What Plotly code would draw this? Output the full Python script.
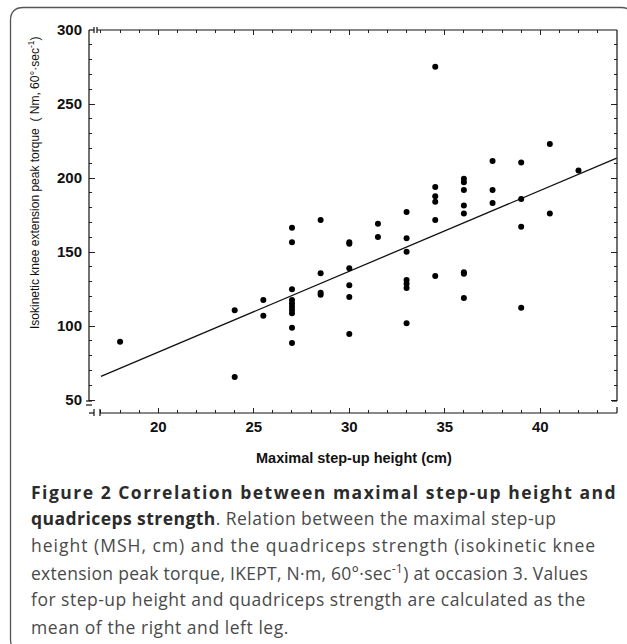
import plotly.graph_objects as go

# ---- data ----
step_height = [18, 24, 24, 25.5, 25.5,
               27, 27, 27, 27, 27, 27, 27, 27, 27, 27,
               28.5, 28.5, 28.5, 28.5,
               30, 30, 30, 30, 30, 30,
               31.5, 31.5,
               33, 33, 33, 33, 33, 33, 33,
               34.5, 34.5, 34.5, 34.5, 34.5, 34.5,
               36, 36, 36, 36, 36, 36, 36, 36,
               37.5, 37.5, 37.5,
               39, 39, 39, 39,
               40.5, 40.5,
               42]
peak_torque = [89.4, 110.6, 65.5, 117.6, 107,
               166.4, 156.6, 124.8, 117.6, 115.3, 113, 110.8, 108.6, 98.9, 88.5,
               171.6, 135.6, 122.5, 121.1,
               156.6, 155.6, 139, 127.5, 119.6, 94.6,
               169.1, 160.1,
               177, 159.3, 150.2, 131.1, 128.5, 125.7, 101.8,
               275.2, 193.9, 187.8, 184, 171.6, 133.8,
               199.5, 197.2, 191.9, 181.5, 176.1, 136.3, 135.4, 118.9,
               211.5, 191.9, 183.1,
               210.6, 185.8, 167.1, 112.4,
               223, 176.1,
               205.2]
fit_x = [17.0, 44.0]
fit_y = [66.0, 213.5]

x_range = [16.372, 44.016]
y_range = [41.22, 300.1]
x_ticks = [20, 25, 30, 35, 40]
y_ticks = [50, 100, 150, 200, 250, 300]

# ---- layout geometry (pixels) ----
W, H = 627, 644
L, T, R, B = 89, 30, 617, 413


def xp(px):
    return (px - L) / (R - L)


def yp(py):
    return (B - py) / (B - T)


fig = go.Figure()
fig.add_trace(go.Scatter(x=fit_x, y=fit_y, mode="lines",
                         line=dict(color="#111111", width=1.3),
                         hoverinfo="skip", showlegend=False, cliponaxis=False))
fig.add_trace(go.Scatter(x=step_height, y=peak_torque, mode="markers",
                         marker=dict(color="#000000", size=6),
                         showlegend=False, cliponaxis=False))

tick_font = dict(family="Liberation Sans, Arial, sans-serif", size=15,
                 color="#111111", weight="bold")

fig.update_xaxes(range=x_range, tickmode="array", tickvals=x_ticks,
                 ticks="inside", ticklen=5, tickwidth=1, tickcolor="#222",
                 mirror="allticks", showline=False, showgrid=False,
                 zeroline=False, tickfont=tick_font, ticklabelstandoff=3,
                 minor=dict(dtick=1, tick0=0, ticks="inside", ticklen=3,
                            tickcolor="#222", showgrid=False))
fig.update_yaxes(range=y_range, tickmode="array", tickvals=y_ticks,
                 ticks="inside", ticklen=6, tickwidth=1, tickcolor="#222",
                 mirror="allticks", showline=False, showgrid=False,
                 zeroline=False, tickfont=tick_font, ticklabelstandoff=6,
                 minor=dict(dtick=10, tick0=0, ticks="inside", ticklen=3,
                            tickcolor="#222", showgrid=False))

# axis lines (detached, with break marks)
lc = dict(color="#111111", width=1.2)
shapes = [
    dict(type="line", xref="paper", yref="paper", x0=0, x1=0,
         y0=yp(401), y1=yp(30), line=lc),
    dict(type="line", xref="paper", yref="paper", x0=xp(100), x1=1,
         y0=0, y1=0, line=lc),
    dict(type="line", xref="paper", yref="paper", x0=xp(97), x1=1,
         y0=1, y1=1, line=lc),
    dict(type="line", xref="paper", yref="paper", x0=xp(89), x1=xp(94),
         y0=1, y1=1, line=lc),
    dict(type="line", xref="paper", yref="paper", x0=1, x1=1,
         y0=yp(401), y1=1, line=lc),
    # break marks
    dict(type="line", xref="paper", yref="paper", x0=xp(94), x1=xp(94),
         y0=yp(27), y1=yp(33), line=lc),
    dict(type="line", xref="paper", yref="paper", x0=xp(97), x1=xp(97),
         y0=yp(27), y1=yp(33), line=lc),
    dict(type="line", xref="paper", yref="paper", x0=xp(89), x1=xp(94),
         y0=yp(413), y1=yp(413), line=lc),
    dict(type="line", xref="paper", yref="paper", x0=xp(94), x1=xp(94),
         y0=yp(409), y1=yp(416), line=lc),
    dict(type="line", xref="paper", yref="paper", x0=xp(100), x1=xp(100),
         y0=yp(409), y1=yp(416), line=lc),
    dict(type="line", xref="paper", yref="paper", x0=xp(86), x1=xp(92),
         y0=yp(401), y1=yp(401), line=lc),
    dict(type="line", xref="paper", yref="paper", x0=xp(86), x1=xp(92),
         y0=yp(405), y1=yp(405), line=lc),
    dict(type="line", xref="paper", yref="paper", x0=xp(612), x1=xp(617),
         y0=yp(401), y1=yp(401), line=lc),
    dict(type="line", xref="paper", yref="paper", x0=1, x1=1,
         y0=yp(413), y1=yp(407), line=lc),
]

# rounded frame around figure + caption
fx0, fy0, fx1, fy1, r = 10.5, 7.5, 634, 652, 13
path = (f"M {xp(fx0)},{yp(fy0 + r)} "
        f"Q {xp(fx0)},{yp(fy0)} {xp(fx0 + r)},{yp(fy0)} "
        f"L {xp(fx1 - r)},{yp(fy0)} "
        f"Q {xp(fx1)},{yp(fy0)} {xp(fx1)},{yp(fy0 + r)} "
        f"L {xp(fx1)},{yp(fy1 - r)} "
        f"Q {xp(fx1)},{yp(fy1)} {xp(fx1 - r)},{yp(fy1)} "
        f"L {xp(fx0 + r)},{yp(fy1)} "
        f"Q {xp(fx0)},{yp(fy1)} {xp(fx0)},{yp(fy1 - r)} Z")
shapes.append(dict(type="path", xref="paper", yref="paper", path=path,
                   line=dict(color="#555555", width=1.3)))

annotations = [
    dict(text="Isokinetic knee extension peak torque  ( Nm, 60°·sec<sup>-1</sup>)",
         xref="paper", yref="paper", x=xp(34), y=yp(183), textangle=-90,
         showarrow=False, xanchor="center", yanchor="middle",
         font=dict(family="Liberation Sans, Arial, sans-serif", size=12,
                   color="#111111")),
    dict(text="<b>Maximal step-up height (cm)</b>",
         xref="paper", yref="paper", x=xp(354), y=yp(458),
         showarrow=False, xanchor="center", yanchor="middle",
         font=dict(family="Liberation Sans, Arial, sans-serif", size=14.5,
                   color="#111111")),
]

cap_font = dict(family="Open Sans, Noto Sans, sans-serif", size=17.5,
                color="#4a4a4a")
bold_c = "#2b2b2b"
caption_lines = [
    f"<b><span style='color:{bold_c}'>Figure 2 Correlation between maximal step-up height and</span></b>",
    f"<b><span style='color:{bold_c}'>quadriceps strength</span></b>. Relation between the maximal step-up",
    "height (MSH, cm) and the quadriceps strength (isokinetic knee",
    "extension peak torque, IKEPT, N·m, 60°·sec<sup>-1</sup>) at occasion 3. Values",
    "for step-up height and quadriceps strength are calculated as the",
    "mean of the right and left leg.",
]
caption_spacing = [1.5, 0.45, 1.0, 0.28, 0.5, 0.55]
caption_y = [491.7, 518, 545, 572.5, 599, 626.5]
for txt, sp, cy in zip(caption_lines, caption_spacing, caption_y):
    annotations.append(dict(text=f"<span style='letter-spacing:{sp}px'>{txt}</span>",
                            xref="paper", yref="paper",
                            x=xp(29), y=yp(cy), showarrow=False,
                            xanchor="left", yanchor="middle", align="left",
                            font=cap_font))

fig.update_layout(width=W, height=H, autosize=False,
                  margin=dict(l=L, r=W - R, t=T, b=H - B, pad=0),
                  paper_bgcolor="white", plot_bgcolor="white",
                  shapes=shapes, annotations=annotations,
                  showlegend=False)

fig.write_html("out.html", config={"displayModeBar": False},
               post_script="document.body.style.margin='0';document.body.style.overflow='hidden';")
